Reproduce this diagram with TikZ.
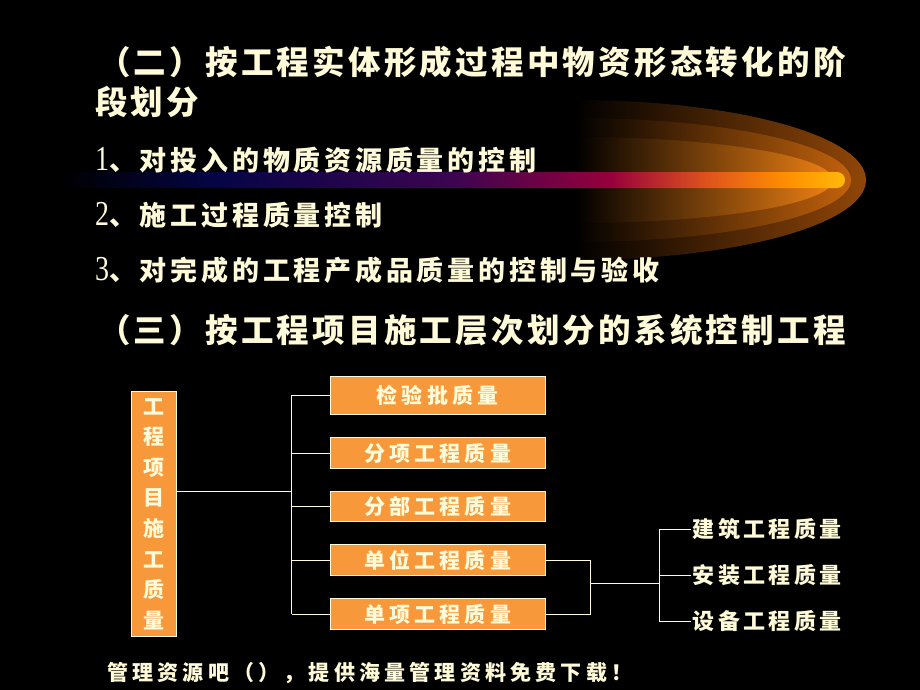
\documentclass[tikz,border=0pt]{standalone}
\usepackage{fontspec}
\setmainfont{Liberation Serif}
\newfontfamily\cjkhead[LetterSpace=10]{Noto Sans CJK SC}
\newfontfamily\cjkitem[LetterSpace=14]{Noto Sans CJK SC}
\newfontfamily\cjkbox[LetterSpace=20]{Noto Sans CJK SC}
\newfontfamily\cjkleaf[LetterSpace=15]{Noto Sans CJK SC}
\newfontfamily\cjkplain{Noto Sans CJK SC}
\usepackage{xcolor}
\usepackage{tikz}
\usetikzlibrary{positioning}

\definecolor{cream}{RGB}{255,250,215}
\definecolor{boxorange}{RGB}{247,153,58}
\definecolor{shellA}{RGB}{145,70,8}
\definecolor{shellB}{RGB}{195,98,12}
\definecolor{shellC}{RGB}{238,128,20}

\pgfdeclarehorizontalshading{barglow}{100bp}{
  color(0bp)=(black); color(25bp)=(black);
  color(35bp)=(rgb,255:red,5;green,5;blue,70);
  color(50bp)=(rgb,255:red,60;green,5;blue,80);
  color(60bp)=(rgb,255:red,150;green,0;blue,60);
  color(66bp)=(rgb,255:red,220;green,80;blue,30);
  color(71bp)=(rgb,255:red,255;green,140;blue,0);
  color(75bp)=(rgb,255:red,255;green,185;blue,10);
  color(100bp)=(rgb,255:red,255;green,185;blue,10)}

\newcommand{\numeral}[1]{{\rmfamily\mdseries\fontsize{35}{35}\selectfont\scalebox{0.8}[1]{#1}}}

\tikzset{
  headline/.style={anchor=west, inner sep=0pt, text=cream,
    font=\cjkhead\bfseries\fontsize{32.5}{34}\selectfont},
  itemline/.style={anchor=west, inner sep=0pt, text=cream,
    font=\cjkitem\bfseries\fontsize{27}{30}\selectfont},
  qbox/.style={draw=cream, fill=boxorange, text=cream, line width=0.8pt,
    inner sep=0pt, font=\cjkbox\bfseries\fontsize{21}{22}\selectfont},
  leaf/.style={anchor=west, inner sep=2pt, text=cream,
    font=\cjkleaf\bfseries\fontsize{22}{22}\selectfont},
  link/.style={draw=cream, line width=1pt},
}

\begin{document}
\begin{tikzpicture}[x=1pt,y=-1pt]
  \fill[black] (0,0) rectangle (920,690);
  \useasboundingbox (0,0) rectangle (920,690);

  % glow behind the list
  \shade[left color=black, right color=shellA]
    (575,100) arc[start angle=-90, end angle=90, x radius=291, y radius=80] -- cycle;
  \shade[left color=black, right color=shellB]
    (575,118) arc[start angle=-90, end angle=90, x radius=276, y radius=62] -- cycle;
  \shade[left color=black, right color=shellC]
    (575,137) arc[start angle=-90, end angle=90, x radius=258, y radius=43] -- cycle;
  \shade[shading=barglow, rounded corners=8pt] (60,172) rectangle (845,188);

  % headings and list
  \node[headline] (h2) at (98,62) {（二）按工程实体形成过程中物资形态转化的阶};
  \node[headline] (h2b) at (95,102) {段划分};
  \node[itemline] (i1) at (95,160) {\numeral{1}、对投入的物质资源质量的控制};
  \node[itemline] (i2) at (95,215) {\numeral{2}、施工过程质量控制};
  \node[itemline] (i3) at (95,270) {\numeral{3}、对完成的工程产成品质量的控制与验收};
  \node[headline] (h3) at (98,330) {（三）按工程项目施工层次划分的系统控制工程};

  % tree
  \node[qbox, minimum width=45, minimum height=245, align=center,
    font=\cjkplain\bfseries\fontsize{21}{30.6}\selectfont] (gc) at (153.7,514)
    {工\\程\\项\\目\\施\\工\\质\\量};
  \node[qbox, minimum width=215, minimum height=38] (b1) at (437.5,395) {检验批质量};
  \node[qbox, minimum width=215, minimum height=31] (b2) at (437.5,453) {分项工程质量};
  \node[qbox, minimum width=215, minimum height=30] (b3) at (437.5,506.3) {分部工程质量};
  \node[qbox, minimum width=215, minimum height=31] (b4) at (437.5,560) {单位工程质量};
  \node[qbox, minimum width=215, minimum height=31] (b5) at (437.5,614) {单项工程质量};

  \coordinate (trunk) at (291.7,491.7);
  \draw[link] (gc.east |- trunk) -- (trunk);
  \draw[link] (trunk |- b1.west) -- (trunk |- b5.west);
  \foreach \b in {b1,b2,b3,b4,b5}
    \draw[link] (trunk |- \b.west) -- (\b.west);

  \node[leaf] (l1) at (690.7,529.3) {建筑工程质量};
  \node[leaf] (l2) at (690.7,575.3) {安装工程质量};
  \node[leaf] (l3) at (690.7,621) {设备工程质量};

  \coordinate (join) at (590,583.3);
  \coordinate (fork) at (659.3,583.3);
  \draw[link] (b4.east) -- (join |- b4.east) -- (join |- b5.east) -- (b5.east);
  \draw[link] (join) -- (fork);
  \draw[link] (fork |- l1.west) -- (fork |- l3.west);
  \foreach \l in {l1,l2,l3}
    \draw[link] (fork |- \l.west) -- (\l.west);

  % footer
  \node[anchor=west, inner sep=0pt, text=cream,
    font=\cjkbox\bfseries\fontsize{21}{22}\selectfont] (foot) at (107,673)
    {管理资源吧（），提供海量管理资料免费下载！};
\end{tikzpicture}
\end{document}
